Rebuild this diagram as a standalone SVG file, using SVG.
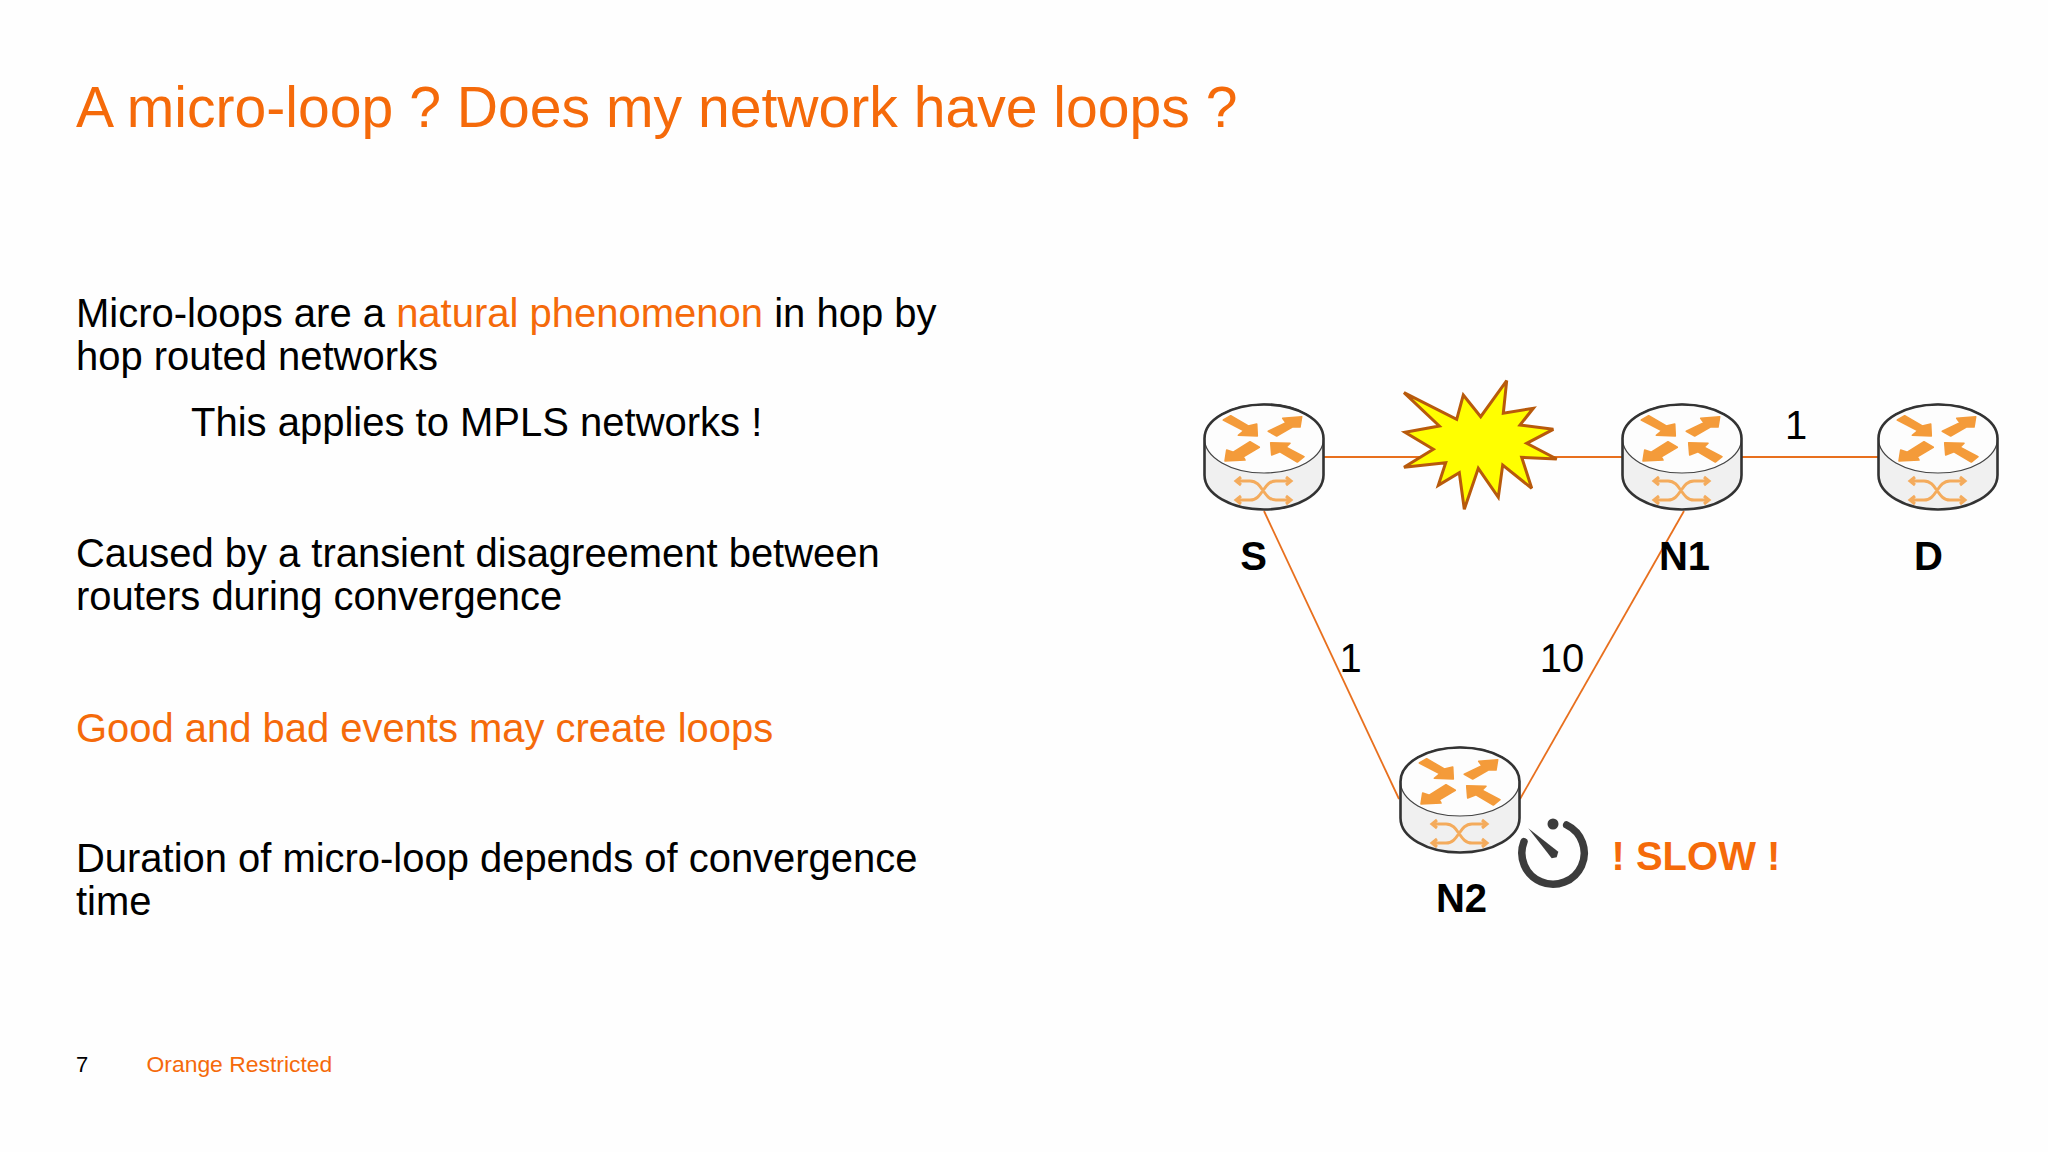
<svg xmlns="http://www.w3.org/2000/svg" width="2048" height="1152" viewBox="0 0 2048 1152">
<style>
text{font-family:"Liberation Sans",Arial,sans-serif;fill:#000}
.b{font-size:39.950px}
.o{fill:#f56a0a}
.l{font-size:40px;font-weight:bold}
.c{stroke:#e8701e;stroke-width:1.800;fill:none}
.ar{fill:#f49b3a;stroke:#f49b3a;stroke-width:1.600;stroke-linejoin:round}
.sw{fill:none;stroke:#f4ab5c;stroke-width:3}
</style>
<defs>
<symbol id="router" overflow="visible" width="120" height="107" viewBox="0 0 120 107">
<path d="M.5 34.500V71C.5 90 27 105.500 60 105.500S119.500 90 119.500 71V34.500Z" fill="#f0f0f0"/>
<ellipse cx="60" cy="34.500" rx="59.500" ry="34.500" fill="#fdfdfd" stroke="#444" stroke-width="1.200"/>
<path d="M.5 34.500C.5 15.500 27 .5 60 .5S119.500 15.500 119.500 34.500V71C119.500 90 93 105.500 60 105.500S.5 90 .5 71Z" fill="none" stroke="#333" stroke-width="2.600"/>
<polygon class="ar" points="19.300,16 26.700,11.700 44.300,22 52.700,20 53.300,32 34.300,31.300 40,26.700"/>
<polygon class="ar" points="64.300,27.300 72.700,32 88.700,22.700 96,23 97.700,12.700 78.700,14.300 82,18.700"/>
<polygon class="ar" points="46,37.700 55.300,43.300 39.300,52.700 41,56 21,57 22.700,46 29.300,48.300"/>
<polygon class="ar" points="66.700,38.700 86,39.300 82,43.300 100,52.700 93.300,58 76,47.700 67.700,51"/>
<path class="sw" d="M33 77H46C59 77 59 96 72 96H86M33 96H46C59 96 59 77 72 77H86M37 73L32 77L37 81M37 92L32 96L37 100M82 73L87 77L82 81M82 92L87 96L82 100"/>
</symbol>
</defs>
<rect width="2048" height="1152" fill="#fefefe"/>
<g id="slide-text">
<text x="76" y="126.500" font-size="57.100" class="o">A micro-loop ? Does my network have loops ?</text>
<text font-size="40" x="76" y="327">Micro-loops are a <tspan class="o">natural phenomenon</tspan> in hop by</text>
<text class="b" x="76" y="370">hop routed networks</text>
<text font-size="40" x="191" y="436">This applies to MPLS networks !</text>
<text class="b" x="76" y="567">Caused by a transient disagreement between</text>
<text class="b" x="76" y="610">routers during convergence</text>
<text class="b o" x="76" y="741.500">Good and bad events may create loops</text>
<text class="b" x="76" y="872">Duration of micro-loop depends of convergence</text>
<text class="b" x="76" y="915">time</text>
<text x="76" y="1072" font-size="22">7</text>
<text class="o" x="146.500" y="1072" font-size="22.900">Orange Restricted</text>
</g>
<g id="connectors">
<line class="c" x1="1323" y1="457" x2="1622" y2="457"/>
<line class="c" x1="1742" y1="457" x2="1878" y2="457"/>
<line class="c" x1="1264" y1="511" x2="1399" y2="799"/>
<line class="c" x1="1684" y1="511" x2="1520" y2="799"/>
</g>
<g id="node-S"><use href="#router" x="1204" y="404" width="120" height="107"/><text class="l" x="1253.500" y="570" text-anchor="middle">S</text></g>
<g id="node-N1"><use href="#router" x="1622" y="404" width="120" height="107"/><text class="l" x="1684.500" y="570" text-anchor="middle">N1</text></g>
<g id="node-D"><use href="#router" x="1878" y="404" width="120" height="107"/><text class="l" x="1928.500" y="570" text-anchor="middle">D</text></g>
<g id="node-N2"><use href="#router" x="1400" y="747" width="120" height="107"/><text class="l" x="1461.500" y="912" text-anchor="middle">N2</text></g>
<g id="burst"><polygon fill="#ffff00" stroke="#b85a0c" stroke-width="3" stroke-miterlimit="3" points="1404,392.700 1456.700,419.300 1463.300,395 1480.700,416.700 1506.700,380.700 1503.300,413.300 1533.300,408.300 1520,425 1553.300,429.300 1526.700,443.300 1556.700,459 1521.700,457.300 1531.700,488.300 1502.700,465 1498.300,497.300 1478.300,468.300 1464.300,509.300 1459.300,472.700 1438.300,485.300 1445.700,462.700 1404,467.300 1433.300,449.300 1405,432.300 1439.300,426"/></g>
<g id="edge-labels">
<text class="b" x="1796" y="439" text-anchor="middle">1</text>
<text class="b" x="1350.500" y="672" text-anchor="middle">1</text>
<text class="b" x="1562" y="672" text-anchor="middle">10</text>
</g>
<g id="timer">
<path d="M1566.700 825A31.200 31.200 0 1 1 1524 841.700" fill="none" stroke="#3c3c3c" stroke-width="7.500" stroke-linecap="round"/>
<circle cx="1553" cy="824" r="5.500" fill="#3c3c3c"/>
<polygon points="1528.300,828.300 1558.300,851.700 1556.700,857.300 1551.700,858.300" fill="#3c3c3c"/>
<text class="l o" x="1611.500" y="870">! SLOW !</text>
</g>
</svg>
